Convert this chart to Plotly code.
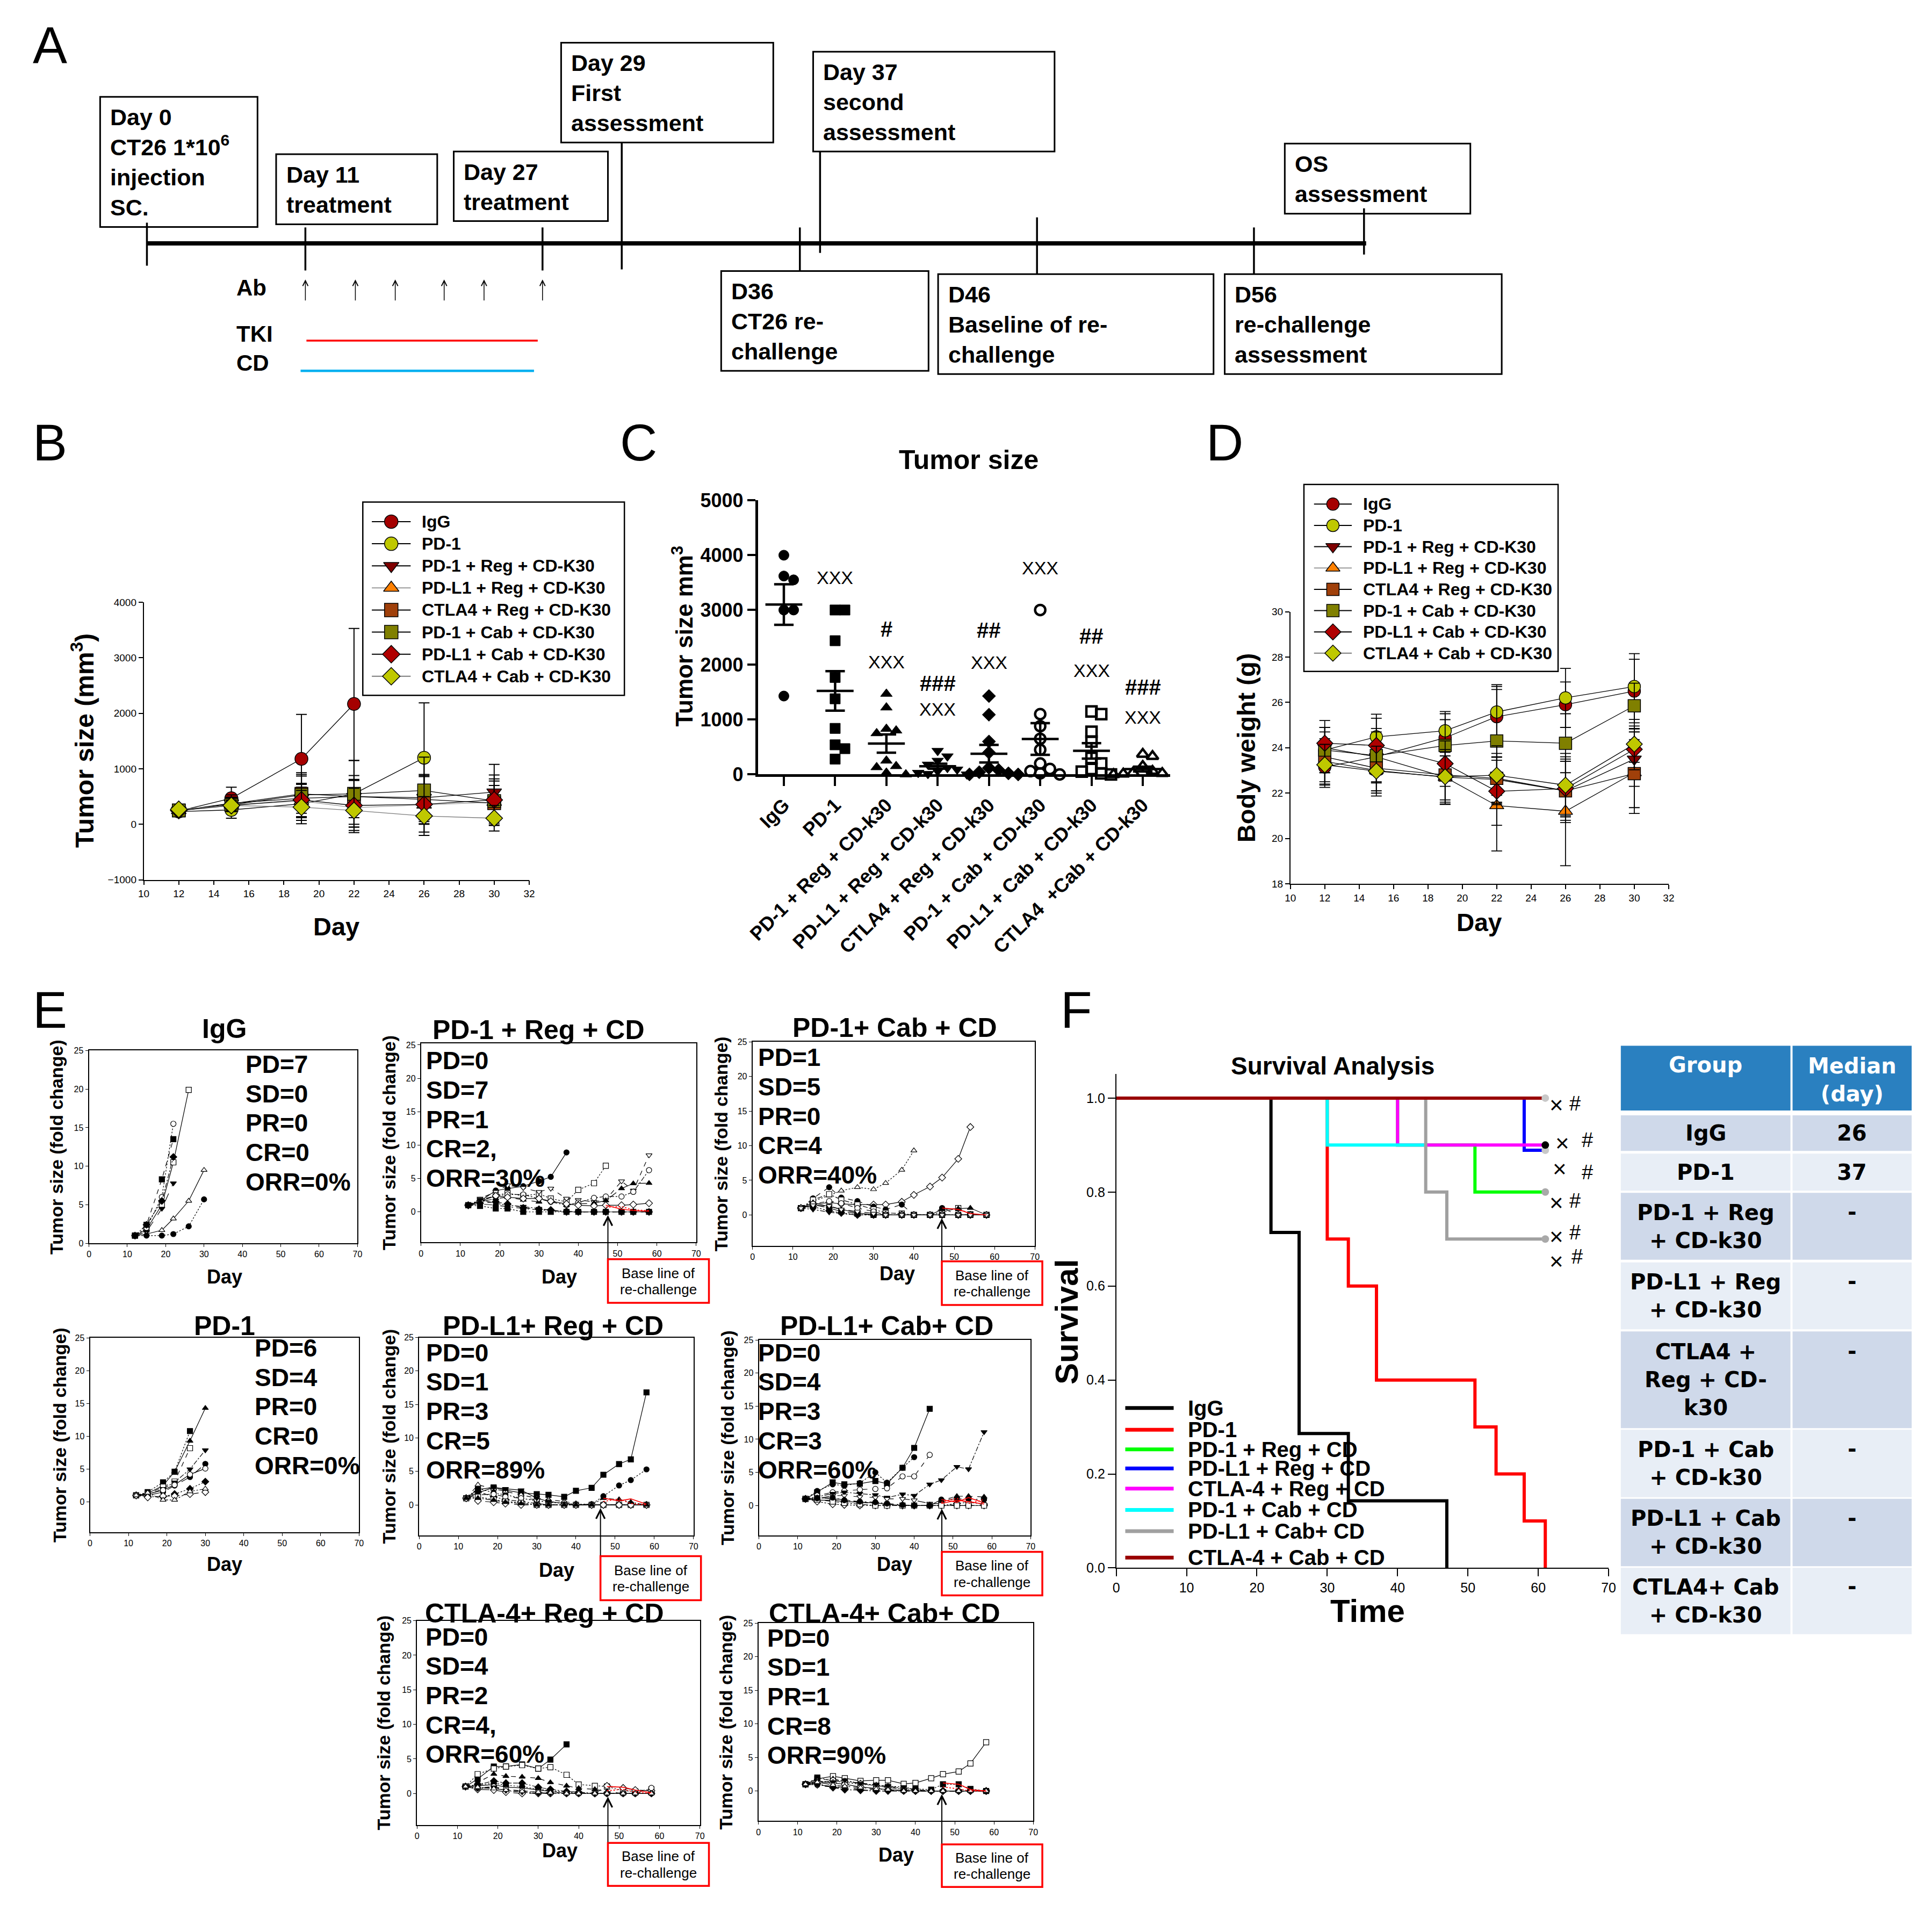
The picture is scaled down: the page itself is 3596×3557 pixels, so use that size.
import numpy as np
import plotly.graph_objects as go

W, H = 3596, 3557
OFF = 8                      # the page body margin; the figure is drawn inside it
WF, HF = W - 2 * OFF, H - 2 * OFF
ARIAL = "Liberation Sans, Arial, Helvetica, sans-serif"
WIDE = "DejaVu Sans, Verdana, sans-serif"

# ======================= DATA =======================
# ---- Panel B / D (group means over days) ----
GROUPS_BD = ["IgG", "PD-1", "PD-1 + Reg + CD-K30", "PD-L1 + Reg + CD-K30",
             "CTLA4 + Reg + CD-K30", "PD-1 + Cab + CD-K30", "PD-L1 + Cab + CD-K30",
             "CTLA4 + Cab + CD-K30"]
BD_SYMBOLS = ["circle", "circle", "triangle-down", "triangle-up", "square", "square", "diamond", "diamond"]
BD_COLORS = ["#A50000", "#BFC800", "#800000", "#FF8000", "#A0400A", "#808000", "#B00000", "#BFC800"]
BD_LINES = ["black", "black", "black", "#9a9a9a", "black", "black", "black", "#7a7a7a"]

B_DAYS = [12, 15, 19, 22, 26, 30]
B_IGG = [240, 470, 1180, 2170]
B_PD1 = [230, 260, 370, 550, 1200]
B_PD1_REG = [250, 380, 470, 500, 480, 580]
B_PDL1_REG = [250, 350, 420, 300, 350, 400]
B_CTLA4_REG = [250, 370, 550, 500, 450, 380]
B_PD1_CAB = [250, 350, 530, 550, 610, 420]
B_PDL1_CAB = [250, 340, 440, 340, 360, 440]
B_CTLA4_CAB = [270, 340, 310, 250, 150, 110]
B_ERR_IGG = [30, 200, 800, 1360]
B_ERR_PD1 = [30, 150, 300, 600, 990]
B_ERR_PD1_REG = [30, 150, 400, 380, 400, 500]
B_ERR_PDL1_REG = [30, 100, 300, 300, 300, 300]
B_ERR_CTLA4_REG = [30, 120, 350, 300, 450, 400]
B_ERR_PD1_CAB = [30, 120, 400, 600, 600, 400]
B_ERR_PDL1_CAB = [30, 100, 300, 450, 500, 450]
B_ERR_CTLA4_CAB = [30, 80, 300, 400, 350, 230]

D_DAYS = [12, 15, 19, 22, 26, 30]
D_IGG = [23.15, 23.6, 24.44, 25.37, 25.9, 26.5]
D_PD1 = [23.9, 24.48, 24.75, 25.58, 26.2, 26.7]
D_PD1_REG = [24.0, 23.6, 22.7, 22.6, 22.1, 23.5]
D_PDL1_REG = [23.4, 23.0, 22.7, 21.45, 21.2, 22.9]
D_CTLA4_REG = [23.6, 23.1, 22.8, 22.65, 22.1, 22.86]
D_PD1_CAB = [23.9, 23.65, 24.1, 24.3, 24.2, 25.85]
D_PDL1_CAB = [24.2, 24.1, 23.3, 22.08, 22.2, 23.93]
D_CTLA4_CAB = [23.25, 22.97, 22.72, 22.79, 22.35, 24.16]
D_ERR_IGG = [0.9, 0.8, 0.8, 1.2, 1.0, 1.4]
D_ERR_PD1 = [1.0, 1.0, 0.85, 1.2, 1.3, 1.45]
D_ERR_PD1_REG = [0.9, 1.1, 1.1, 1.0, 1.3, 1.2]
D_ERR_PDL1_REG = [1.0, 1.0, 1.2, 2.0, 2.4, 1.8]
D_ERR_CTLA4_REG = [1.1, 1.0, 1.1, 1.1, 1.4, 1.5]
D_ERR_PD1_CAB = [1.0, 1.2, 1.4, 2.4, 1.3, 1.0]
D_ERR_PDL1_CAB = [1.0, 1.2, 1.0, 1.5, 1.2, 0.9]
D_ERR_CTLA4_CAB = [0.9, 1.1, 1.2, 1.3, 1.4, 0.8]

# ---- Panel C (individual tumor sizes) ----
C_GROUPS = ["IgG", "PD-1", "PD-1 + Reg + CD-k30", "PD-L1 + Reg + CD-k30",
            "CTLA4 + Reg + CD-k30", "PD-1 + Cab + CD-k30", "PD-L1 + Cab + CD-k30",
            "CTLA4  +Cab + CD-k30"]
C_IGG = [4000, 3620, 3550, 3000, 3000, 1430]
C_PD1 = [3000, 3000, 2440, 1770, 1380, 840, 540, 470, 280]
C_PD1_REG = [1470, 1220, 830, 800, 750, 250, 150, 130, 30, 0]
C_PDL1_REG = [430, 330, 250, 180, 120, 90, 60, 30, 10, 0]
C_CTLA4_REG = [1430, 1090, 600, 400, 120, 80, 40, 20, 0, 0]
C_PD1_CAB = [3000, 1100, 880, 650, 450, 200, 100, 60, 20, 0]
C_PDL1_CAB = [1150, 1100, 780, 600, 300, 200, 100, 50, 20, 0]
C_CTLA4_CAB = [370, 330, 150, 60, 30, 20, 10, 0, 0, 0]
C_SYMBOLS = ["circle", "square", "triangle-up", "triangle-down", "diamond",
             "circle-open", "square-open", "triangle-up-open"]
C_XXX_Y = [None, 3590, 2050, 1190, 2040, 3770, 1900, 1040]
C_HASH = [None, None, "#", "###", "##", None, "##", "###"]
C_HASH_Y = [None, None, 2650, 1660, 2630, None, 2520, 1590]

# ---- Panel E (individual fold-change curves) ----
E_DAYS_SHORT = [12, 15, 19, 22, 26, 30]
E_DAYS_LONG = [12, 15, 19, 22, 26, 30, 33, 37, 40, 44, 47, 51, 54, 58]
E_RC_DAYS = [47, 51, 54, 58]
N = None

E_IGG = [
    [1, 1.8, 5.0, 10.5, 19.9, N],
    [1, 2.0, 6.0, 15.5, N, N],
    [1, 2.4, 8.3, 13.5, N, N],
    [1, 2.4, 5.5, 11.2, N, N],
    [1, 1.5, 4.5, 7.8, N, N],
    [1, 1.2, 1.7, 3.2, 5.5, 9.5],
    [1, 1.0, 1.0, 1.2, 2.2, 5.7],
]
E_IGG_SYM = ["square-open", "circle-open", "square", "diamond", "triangle-down", "triangle-up-open", "circle"]

E_PD1 = [
    [1, 1.3, 2.5, 4.6, 9.3, 14.3],
    [1, 1.5, 3.0, 4.6, 10.8, N],
    [1, 1.2, 2.3, 3.1, 8.2, N],
    [1, 1.1, 2.0, 3.0, 5.0, 7.9],
    [1, 1.0, 1.5, 2.5, 3.8, 5.8],
    [1, 1.2, 1.8, 2.6, 4.2, 5.1],
    [1, 0.8, 0.8, 1.2, 2.0, 3.1],
    [1, 0.7, 0.9, 0.9, 1.2, 1.5],
    [1, 1.4, 0.3, 0.3, 1.6, 2.0],
]
E_PD1_SYM = ["triangle-up", "square", "square-open", "triangle-down", "circle", "circle-open",
             "diamond", "diamond-open", "triangle-up-open"]

E_PD1REG = [
    [1, 1.6, 3.2, 3.5, 3.85, 4.6, 5.25, 8.9, N, N, N, N, N, N],
    [1, 1.5, 2.5, 2.8, 2.4, 2.7, 2.0, 1.5, 3.3, 4.3, 6.9, N, N, N],
    [1, 2.0, 3.0, 4.0, 3.6, 3.0, 3.5, 2.0, 1.8, 1.5, 1.8, 4.6, 3.2, 8.5],
    [1, 1.8, 2.4, 2.6, 2.6, 2.0, 1.5, 1.0, 1.4, 2.1, 2.3, 2.3, 3.0, 6.25],
    [1, 1.5, 2.0, 2.2, 1.8, 1.5, 1.7, 1.0, 1.2, 1.3, 1.7, 3.5, 4.25, 4.3],
    [1, 1.6, 2.4, 2.2, 2.0, 2.0, 1.6, 1.2, 1.0, 0.9, 1.0, 1.0, 1.1, 1.3],
    [1, 0.9, 0.5, 0.5, 0, 0, 0, 0, 0, 0, 0, 0, 0, 0],
    [1, 1.3, 1.5, 1.2, 0.6, 0.4, 0.3, 0, 0, 0, 0, 0, 0, 0],
    [1, 1.8, 1.3, 1.0, 0.8, 0.5, 0.2, 0, 0, 0, 0, 0, 0, 0],
    [1, 1.2, 1.0, 0.8, 0.5, 0.3, 0.2, 0.1, 0, 0, 0, 0, 0, 0],
]
E_PD1REG_SYM = ["circle", "square-open", "triangle-down-open", "circle-open", "triangle-up",
                "diamond-open", "square", "diamond", "triangle-down", "circle"]
E_PD1REG_RC = [[1.0, 0.4, 0.2, 0.1], [0.7, 0.8, 0.3, 0.2]]

E_PD1CAB = [
    [1, 1.5, 1.8, 1.6, 1.5, 1.5, 1.5, 1.9, 2.9, 4.1, 5.4, 8.1, 12.7, N],
    [1, 2.0, 2.8, 3.5, 4.0, 3.7, 4.6, 6.5, 9.3, N, N, N, N, N],
    [1, 2.4, 4.0, 2.5, 2.0, 1.2, 0.8, 1.5, 0, 0, 1.0, 0, 0, 0],
    [1, 2.2, 3.0, 2.2, 1.5, 0.8, 0.3, 0.2, 0, 0, 0.4, 1.0, 0.1, 0],
    [1, 1.5, 1.0, 0.5, 0.2, 0, 0, 0, 0, 0, 0, 0, 0, 0],
    [1, 1.8, 1.2, 0.8, 0.3, 0, 0, 0, 0, 0, 0.8, 0.9, 1.0, 0],
    [1, 1.2, 0.6, 0.3, 0, 0, 0, 0, 0, 0, 0, 0, 0, 0],
    [1, 1.6, 2.0, 1.7, 1.0, 0.5, 0, 0, 0, 0, 0, 0, 0, 0],
    [1, 0.8, 0.4, 0.2, 0, 0, 0, 0, 0, 0, 0, 0, 0, 0],
    [1, 1.4, 1.3, 0.8, 0.5, 0.2, 0, 0, 0, 0, 0, 0, 0, 0],
]
E_PD1CAB_SYM = ["diamond-open", "triangle-up-open", "circle", "square-open", "square",
                "triangle-up", "diamond", "circle-open", "triangle-down", "triangle-down-open"]
E_PD1CAB_RC = [[1.0, 0.8, 0.2, 0.0]]

E_PDL1REG = [
    [1, 2.3, 2.6, 2.2, 1.8, 1.6, 1.5, 1.2, 2.1, 2.55, 4.5, 6.1, 6.8, 16.8],
    [1, 2.5, 1.8, 1.5, 1.0, 0.6, 0.4, 0.2, 0.1, 0.1, 1.3, 2.9, 3.7, 5.3],
    [1, 3.0, 2.4, 2.0, 1.5, 1.0, 0.8, 0.5, 0.2, 0, 0, 0, 0, 0],
    [1, 2.0, 1.2, 0.8, 0.5, 0.2, 0, 0, 0, 0, 0, 0, 0, 0],
    [1, 1.5, 1.6, 1.2, 1.0, 0.8, 0.5, 0.3, 0, 0, 0, 0, 0, 0],
    [1, 1.8, 2.6, 2.4, 2.2, 1.0, 0.5, 0.2, 0, 0, 0, 0, 0, 0],
    [1, 1.2, 0.8, 0.5, 0.3, 0, 0, 0, 0, 0, 0, 0, 0, 0],
    [1, 0.6, 0.4, 0.2, 0, 0, 0, 0, 0, 0, 0, 0, 0, 0],
    [1, 1.0, 0.7, 0.4, 0.2, 0, 0, 0, 0, 0, 1.0, 0.8, 0.4, 0],
]
E_PDL1REG_SYM = ["square", "circle", "triangle-up-open", "diamond", "circle-open",
                 "triangle-down", "square-open", "diamond-open", "triangle-up"]
E_PDL1REG_RC = [[1.0, 0.6, 0.9, 0.1], [0.5, 0.9, 0.2, 0.0]]

E_PDL1CAB = [
    [1, 2.0, 3.5, 3.2, 3.3, 3.7, 3.3, 5.7, 8.7, 14.6, N, N, N, N],
    [1, 2.2, 3.2, 3.0, 3.4, 5.0, 3.45, 5.7, 7.3, N, N, N, N, N],
    [1, 1.5, 2.0, 2.2, 2.4, 2.5, 2.6, 4.4, 4.4, 7.65, N, N, N, N],
    [1, 1.3, 1.8, 2.0, 1.8, 1.6, 1.2, 1.7, 1.5, 3.2, 3.85, 5.85, 5.5, 11.1],
    [1, 1.0, 1.5, 1.5, 1.3, 1.2, 1.0, 1.0, 0.8, 0.3, 0.3, 0, 0, 0],
    [1, 0.8, 0.8, 0.6, 0.5, 0.4, 0.2, 0, 0, 0, 0, 0, 0, 0],
    [1, 0.6, 0.2, 0.1, 0, 0, 0, 0, 0, 0, 0, 0.3, 0.5, 0.2],
    [1, 1.2, 1.0, 0.9, 0.5, 0.3, 0, 0, 0, 0, 0.8, 1.4, 1.4, 1.3],
    [1, 0.9, 0.6, 0.4, 0.2, 0, 0, 0, 0, 0, 0, 0, 0, 0],
    [1, 1.1, 1.2, 0.8, 0.6, 0.5, 0.3, 0.1, 0, 0, 0.9, 1.0, 1.0, 0.9],
]
E_PDL1CAB_SYM = ["square", "circle", "circle-open", "triangle-down", "triangle-down-open",
                 "diamond", "diamond-open", "triangle-up", "square-open", "circle"]
E_PDL1CAB_RC = [[0.9, 0.5, 1.2, 0.4], [0.5, 1.1, 0.3, 0.9], [0.3, 0.8, 0.6, 0.2]]

E_CTLA4REG = [
    [1, 2.1, 3.9, 3.9, 4.2, 3.6, 4.9, 7.1, N, N, N, N, N, N],
    [1, 2.8, 3.6, 3.9, 4.1, 3.6, 3.8, 2.7, 1.3, 1.1, 1.0, 0.4, 0.3, 0.6],
    [1, 1.6, 2.8, 2.5, 2.4, 2.2, 1.6, 1.1, 0.75, 0.6, 0.3, 0, 0, 0],
    [1, 1.3, 1.8, 1.5, 1.5, 0.9, 0.6, 0.3, 0.2, 0, 0, 0, 0, 0],
    [1, 0.6, 0.5, 0.2, 0, 0, 0, 0, 0, 0, 1.1, 0.8, 0.5, 0.4],
    [1, 1.1, 1.3, 0.9, 0.8, 0.5, 0.3, 0, 0, 0, 0, 0, 0, 0],
    [1, 1.2, 1.5, 1.2, 1.0, 0.6, 0.4, 0.2, 0, 0, 0, 0, 0, 0],
    [1, 0.8, 1.0, 0.6, 0.4, 0.2, 0, 0, 0, 0, 0, 0, 0, 0.8],
    [1, 0.7, 0.9, 0.4, 0.2, 0, 0, 0, 0, 0, 0, 0, 0, 0],
    [1, 0.9, 0.7, 0.5, 0.3, 0.2, 0.1, 0, 0, 0, 0, 0, 0, 0],
]
E_CTLA4REG_SYM = ["square", "square-open", "triangle-up", "diamond", "diamond-open",
                  "triangle-down-open", "circle", "circle-open", "triangle-down", "triangle-up-open"]
E_CTLA4REG_RC = [[1.0, 0.9, 0.5, 0.1], [0.4, 0.6, 0.2, 0.0]]

E_CTLA4CAB = [
    [1, 1.8, 2.2, 1.9, 1.5, 1.6, 1.6, 1.06, 1.2, 1.9, 2.5, 2.9, 4.1, 7.26],
    [1, 2.0, 1.5, 1.3, 1.0, 0.8, 0.6, 0.4, 0.3, 0.2, 1.0, 1.0, 0.3, 0],
    [1, 1.6, 1.8, 1.4, 1.2, 0.9, 0.7, 0.4, 0.2, 0, 0, 0, 0, 0],
    [1, 1.2, 1.6, 1.5, 1.1, 0.8, 0.5, 0.3, 0.1, 0, 0, 0, 0, 0],
    [1, 0.9, 0.7, 0.5, 0.3, 0.2, 0.1, 0, 0, 0, 0, 0, 0, 0],
    [1, 1.4, 1.2, 1.0, 0.6, 0.4, 0.2, 0.1, 0, 0, 0, 0, 0, 0],
    [1, 1.5, 1.3, 1.6, 1.1, 0.9, 0.7, 0.6, 0.2, 0, 0, 0, 0, 0],
    [1, 0.8, 0.6, 0.4, 0.2, 0, 0, 0, 0, 0, 0, 0, 0, 0],
    [1, 1.1, 0.5, 0.2, 0.1, 0, 0, 0, 0, 0, 0, 0, 0, 0],
    [1, 1.3, 0.9, 0.7, 0.5, 0.3, 0.2, 0, 0, 0, 0, 0, 0, 0],
]
E_CTLA4CAB_SYM = ["square-open", "square", "triangle-up", "circle-open", "circle",
                  "diamond-open", "triangle-down", "triangle-down-open", "diamond", "triangle-up-open"]
E_CTLA4CAB_RC = [[1.2, 1.0, 0.2, 0.0], [0.6, 0.3, 0.0, 0.0]]

E_TITLES = ["IgG", "PD-1 + Reg + CD", "PD-1+ Cab + CD", "PD-1", "PD-L1+ Reg + CD",
            "PD-L1+ Cab+ CD", "CTLA-4+ Reg + CD", "CTLA-4+ Cab+ CD"]
E_STATS = [
    ["PD=7", "SD=0", "PR=0", "CR=0", "ORR=0%"],
    ["PD=0", "SD=7", "PR=1", "CR=2,", "ORR=30%"],
    ["PD=1", "SD=5", "PR=0", "CR=4", "ORR=40%"],
    ["PD=6", "SD=4", "PR=0", "CR=0", "ORR=0%"],
    ["PD=0", "SD=1", "PR=3", "CR=5", "ORR=89%"],
    ["PD=0", "SD=4", "PR=3", "CR=3", "ORR=60%"],
    ["PD=0", "SD=4", "PR=2", "CR=4,", "ORR=60%"],
    ["PD=0", "SD=1", "PR=1", "CR=8", "ORR=90%"],
]

# ---- Panel F (survival) ----
F_NAMES = ["IgG", "PD-1", "PD-1 + Reg + CD", "PD-L1 + Reg + CD", "CTLA-4 + Reg + CD",
           "PD-1 + Cab + CD", "PD-L1 + Cab+ CD", "CTLA-4 + Cab + CD"]
F_COLORS = ["black", "#FF0000", "#00FF00", "#0000FF", "#FF00FF", "#00FFFF", "#A0A0A0", "#990000"]
F_TIMES = [[0, 22, 26, 33, 47], [0, 30, 33, 37, 51, 54, 58, 61], [0, 40, 51, 61], [0, 58, 61],
           [0, 40, 61], [0, 30, 44], [0, 44, 47, 61], [0, 61]]
F_SURV = [[1, 0.714, 0.286, 0.143, 0], [1, 0.7, 0.6, 0.4, 0.3, 0.2, 0.1, 0], [1, 0.9, 0.8, 0.8],
          [1, 0.889, 0.889], [1, 0.9, 0.9], [1, 0.9, 0.9], [1, 0.8, 0.7, 0.7], [1, 1]]
F_END_X = [61, 61, 61, 61, 61]
F_END_Y = [0.8, 0.889, 0.9, 0.7, 1.0]
F_END_C = ["#A9A9A9", "#C8C8C8", "black", "#A9A9A9", "#C8C8C8"]
F_MARK_X = [62.55, 63.45, 63.07, 62.55, 62.55, 62.55]
F_MARK_Y = [0.986, 0.904, 0.850, 0.777, 0.705, 0.653]
F_HASH_X = [65.2, 66.95, 66.95, 65.2, 65.2, 65.55]
F_HASH_Y = [0.989, 0.911, 0.842, 0.781, 0.714, 0.662]

TBL_GROUPS = ["IgG", "PD-1", "PD-1 + Reg<br>+ CD-k30", "PD-L1 + Reg<br>+ CD-k30",
              "CTLA4 +<br>Reg + CD-<br>k30", "PD-1 + Cab<br>+ CD-k30", "PD-L1 + Cab<br>+ CD-k30",
              "CTLA4+ Cab<br>+ CD-k30"]
TBL_MEDIAN = ["26", "37", "-", "-", "-", "-", "-", "-"]

# ======================= LAYOUT GEOMETRY (pixels of the page) =======================
def dx(a, b):
    return [(a - OFF) / WF, (b - OFF) / WF]

def dy(top, bot):
    return [1 - (bot - OFF) / HF, 1 - (top - OFF) / HF]

traces, shapes, anns = [], [], []
layout = {}

def axn(n):
    return ("x" if n == 1 else f"x{n}"), ("y" if n == 1 else f"y{n}")

OV = 13
OX, OY = axn(OV)

def text(x, y, s, size, bold=True, xanchor="center", yanchor="middle", angle=0,
         color="black", family=ARIAL, xref=None, yref=None, align=None):
    anns.append(dict(x=x, y=y, xref=xref or OX, yref=yref or OY, text=s, showarrow=False,
                     xanchor=xanchor, yanchor=yanchor, textangle=angle,
                     align=align or ("left" if xanchor == "left" else "center"),
                     font=dict(size=size, color=color, family=family,
                               weight="bold" if bold else "normal")))

def seg(x0, y0, x1, y1, width=2, color="black"):
    shapes.append(dict(type="line", x0=x0, y0=y0, x1=x1, y1=y1, xref=OX, yref=OY,
                       line=dict(width=width, color=color)))

def rect(x0, y0, x1, y1, width=2, color="black", fill=None):
    d = dict(type="rect", x0=x0, y0=y0, x1=x1, y1=y1, xref=OX, yref=OY,
             line=dict(width=width, color=color))
    if fill:
        d["fillcolor"] = fill
    shapes.append(d)

def arrow(x, ytip, ytail, width=2, size=1.0, head=5):
    anns.append(dict(x=x, y=ytip, ax=x, ay=ytail, xref=OX, yref=OY, axref=OX, ayref=OY,
                     text="", showarrow=True, arrowhead=head, arrowsize=size,
                     arrowwidth=width, arrowcolor="black"))

def marker_style(sym, size, lw=1.2, color="black"):
    if sym.endswith("-open"):
        return dict(symbol=sym[:-5], size=size, color="white", line=dict(color=color, width=lw))
    return dict(symbol=sym, size=size, color=color, line=dict(color=color, width=lw))

def axis_common(**kw):
    d = dict(showgrid=False, zeroline=False, showline=True, linecolor="black",
             ticks="outside", tickcolor="black")
    d.update(kw)
    return d

# ---------------- Panel labels ----------------
for lab, (lx, ly) in zip("ABCDEF", [(71, 64), (71, 813), (1178, 813), (2280, 813), (71, 1881), (2001, 1881)]):
    text(lx, ly, lab, 96, bold=False)

# ---------------- Panel A (timeline diagram) ----------------
A_BOXES = [(165, 162, 461, 407), (496, 270, 799, 402), (830, 265, 1120, 396),
           (1032, 60, 1431, 248), (1506, 77, 1960, 265), (2393, 250, 2742, 382),
           (1333, 490, 1723, 678), (1741, 496, 2259, 684), (2280, 496, 2801, 684)]
A_TEXT = ["Day 0<br>CT26 1*10<sup>6</sup><br>injection<br>SC.", "Day 11<br>treatment",
          "Day 27<br>treatment", "Day 29<br>First<br>assessment", "Day 37<br>second<br>assessment",
          "OS<br>assessment", "D36<br>CT26 re-<br>challenge", "D46<br>Baseline of re-<br>challenge",
          "D56<br>re-challenge<br>assessment"]
A_TICKS = [(253, 399, 480), (551, 408, 489), (997, 408, 489), (1146, 248, 487), (1519, 265, 456),
           (2542, 372, 459), (1481, 408, 490), (1927, 389, 496), (2335, 408, 496)]
A_AB_X = [551, 645, 720, 812, 887, 997]

for (x0, y0, x1, y1), s in zip(A_BOXES, A_TEXT):
    rect(x0, y0, x1, y1, width=3)
    text(x0 + 17, y0 + 12, s, 43, xanchor="left", yanchor="top")
for (x, y0, y1) in A_TICKS:
    seg(x, y0, x, y1, width=3.5)
seg(253, 438, 2546, 438, width=8)
text(419, 521, "Ab", 42, xanchor="left")
text(419, 608, "TKI", 42, xanchor="left")
text(419, 663, "CD", 42, xanchor="left")
for x in A_AB_X:
    arrow(x, 506, 547, width=1.5, size=1.3, head=5)
seg(553, 621, 988, 621, width=3.5, color="#FF0000")
seg(542, 678, 981, 678, width=4.5, color="#00B0F0")

# ---------------- Panel B ----------------
B_SERIES = [B_IGG, B_PD1, B_PD1_REG, B_PDL1_REG, B_CTLA4_REG, B_PD1_CAB, B_PDL1_CAB, B_CTLA4_CAB]
B_ERRS = [B_ERR_IGG, B_ERR_PD1, B_ERR_PD1_REG, B_ERR_PDL1_REG, B_ERR_CTLA4_REG, B_ERR_PD1_CAB,
          B_ERR_PDL1_CAB, B_ERR_CTLA4_CAB]
bx, by = axn(1)
for i, vals in enumerate(B_SERIES):
    traces.append(go.Scatter(
        x=B_DAYS[:len(vals)], y=vals, mode="lines+markers", xaxis=bx, yaxis=by, cliponaxis=False,
        line=dict(color=BD_LINES[i], width=1.3),
        marker=dict(symbol=BD_SYMBOLS[i], size=24, color=BD_COLORS[i], line=dict(color="black", width=1.5)),
        error_y=dict(type="data", array=B_ERRS[i], color="black", thickness=2, width=10)))
layout["xaxis"] = axis_common(domain=dx(247, 972), range=[10, 32], dtick=2, tick0=10, ticklen=8,
                              tickwidth=1.5, linewidth=1.5, tickfont=dict(size=19), anchor="y")
layout["yaxis"] = axis_common(domain=dy(1114, 1636.5), range=[-1000, 4000], dtick=1000, ticklen=8,
                              tickwidth=1.5, linewidth=1.5, tickfont=dict(size=19), anchor="x")
text(132, 1374, "Tumor size (mm<sup>3</sup>)", 48, angle=-90)
text(609, 1724, "Day", 47)

def legend_box(box, row0, drow, lx0, lx1, tx, msize, fsize):
    rect(*box, width=2.5)
    for i, name in enumerate(GROUPS_BD):
        yy = row0 + i * drow
        traces.append(go.Scatter(x=[lx0, lx1], y=[yy, yy], mode="lines", xaxis=OX, yaxis=OY,
                                 line=dict(color=BD_LINES[i], width=2), hoverinfo="skip"))
        traces.append(go.Scatter(x=[(lx0 + lx1) / 2], y=[yy], mode="markers", xaxis=OX, yaxis=OY,
                                 marker=dict(symbol=BD_SYMBOLS[i], size=msize, color=BD_COLORS[i],
                                             line=dict(color="black", width=1.5)), hoverinfo="skip"))
        text(tx, yy, name, fsize, xanchor="left")

legend_box((659, 925, 1151, 1289), 962, 41.6, 676, 749, 768, 25, 32)

# ---------------- Panel C ----------------
def swarm(vals, step=0.19, thr=170):
    order = sorted(range(len(vals)), key=lambda k: -vals[k])
    xs = [0.0] * len(vals)
    placed = []
    cands = [0.0]
    for j in range(1, 9):
        cands += [j * step, -j * step]
    for k in order:
        v = vals[k]
        for c in cands:
            if all(abs(c - px) >= step * 0.95 or abs(v - pv) >= thr for px, pv in placed):
                xs[k] = c
                break
        placed.append((xs[k], v))
    return xs

C_SERIES = [C_IGG, C_PD1, C_PD1_REG, C_PDL1_REG, C_CTLA4_REG, C_PD1_CAB, C_PDL1_CAB, C_CTLA4_CAB]
cx, cy = axn(2)
for i, vals in enumerate(C_SERIES):
    offs = swarm(vals)
    sym = C_SYMBOLS[i]
    if sym.endswith("-open"):
        mk = dict(symbol=sym, size=19, color="black", line=dict(color="black", width=4.5))
    else:
        mk = dict(symbol=sym, size=19, color="black", line=dict(color="black", width=1))
    traces.append(go.Scatter(x=[i + o for o in offs], y=vals, mode="markers", marker=mk,
                             xaxis=cx, yaxis=cy, cliponaxis=False))
    m = float(np.mean(vals))
    s = float(np.std(vals, ddof=1) / np.sqrt(len(vals)))
    traces.append(go.Scatter(x=[i - 0.36, i + 0.36], y=[m, m], mode="lines", xaxis=cx, yaxis=cy,
                             line=dict(color="black", width=4.5), cliponaxis=False))
    traces.append(go.Scatter(x=[i, i, None, i - 0.19, i + 0.19, None, i - 0.19, i + 0.19],
                             y=[m - s, m + s, None, m + s, m + s, None, m - s, m - s],
                             mode="lines", xaxis=cx, yaxis=cy, line=dict(color="black", width=4.5),
                             cliponaxis=False))
    if C_XXX_Y[i] is not None:
        text(i, C_XXX_Y[i], "XXX", 34, bold=False, xref=cx, yref=cy)
    if C_HASH[i] is not None:
        text(i, C_HASH_Y[i], C_HASH[i], 40, xref=cx, yref=cy)
layout["xaxis2"] = axis_common(domain=dx(1402, 2177), range=[-0.507, 7.53], tickvals=list(range(8)),
                               ticktext=C_GROUPS, tickangle=-45, ticklen=17, tickwidth=4, linewidth=4.5,
                               tickfont=dict(size=36, weight="bold"), anchor="y2")
layout["yaxis2"] = axis_common(domain=dy(922, 1438), range=[0, 5000], dtick=1000, ticklen=15,
                               tickwidth=4, linewidth=4.5, tickfont=dict(size=36, weight="bold"),
                               anchor="x2")
text(1798, 846, "Tumor size", 50)
text(1260, 1178, "Tumor size mm<sup>3</sup>", 44, angle=-90)

# ---------------- Panel D ----------------
D_SERIES = [D_IGG, D_PD1, D_PD1_REG, D_PDL1_REG, D_CTLA4_REG, D_PD1_CAB, D_PDL1_CAB, D_CTLA4_CAB]
D_ERRS = [D_ERR_IGG, D_ERR_PD1, D_ERR_PD1_REG, D_ERR_PDL1_REG, D_ERR_CTLA4_REG, D_ERR_PD1_CAB,
          D_ERR_PDL1_CAB, D_ERR_CTLA4_CAB]
ddx, ddy = axn(3)
for i, vals in enumerate(D_SERIES):
    traces.append(go.Scatter(
        x=D_DAYS, y=vals, mode="lines+markers", xaxis=ddx, yaxis=ddy, cliponaxis=False,
        line=dict(color="black", width=1.3),
        marker=dict(symbol=BD_SYMBOLS[i], size=23, color=BD_COLORS[i], line=dict(color="black", width=1.5)),
        error_y=dict(type="data", array=D_ERRS[i], color="black", thickness=1.8, width=10)))
layout["xaxis3"] = axis_common(domain=dx(2403.5, 3115), range=[10, 32], dtick=2, tick0=10, ticklen=8,
                               tickwidth=1.5, linewidth=1.5, tickfont=dict(size=19), anchor="y3")
layout["yaxis3"] = axis_common(domain=dy(1131.6, 1644), range=[18, 30], dtick=2, ticklen=8,
                               tickwidth=1.5, linewidth=1.5, tickfont=dict(size=19), anchor="x3")
text(2320, 1388, "Body weight (g)", 47, angle=-90)
text(2759, 1717, "Day", 46)
legend_box((2429, 892, 2907, 1244), 929, 40.1, 2448, 2519, 2538, 23, 32)

# ---------------- Panel E ----------------
E_DATA = [E_IGG, E_PD1REG, E_PD1CAB, E_PD1, E_PDL1REG, E_PDL1CAB, E_CTLA4REG, E_CTLA4CAB]
E_SYMS = [E_IGG_SYM, E_PD1REG_SYM, E_PD1CAB_SYM, E_PD1_SYM, E_PDL1REG_SYM, E_PDL1CAB_SYM,
          E_CTLA4REG_SYM, E_CTLA4CAB_SYM]
E_RC = [None, E_PD1REG_RC, E_PD1CAB_RC, None, E_PDL1REG_RC, E_PDL1CAB_RC, E_CTLA4REG_RC, E_CTLA4CAB_RC]
E_BOX = [(144, 649, 1958, 2321), (768.6, 1286, 1944.2, 2319.2), (1392, 1923, 1941.5, 2325.4),
         (146, 652, 2499.2, 2864.6), (765, 1281, 2498.4, 2870.9), (1404, 1915, 2502.9, 2870.9),
         (761, 1293, 3031.6, 3416), (1403, 1920, 3036.3, 3408.7)]
E_YR = [[0, 25], [-4.56, 25.25], [-4.43, 25.0], [-4.58, 25], [-4.55, 25], [-4.5, 25],
        [-4.53, 25], [-4.46, 25]]
E_TITLE_XY = [(399, 1917), (990, 1919), (1660, 1915), (399, 2477), (1017, 2477), (1644, 2477),
              (1001, 3018), (1640, 3018)]
E_STATS_XY = [(436, 1984), (776, 1977), (1400, 1971), (454, 2518), (776, 2527), (1400, 2527),
              (775, 3062), (1418, 3064)]
E_DAY_XY = [(399, 2384), (1029, 2384), (1664, 2378), (399, 2925), (1023, 2936), (1659, 2925),
            (1030, 3465), (1662, 3473)]
E_YLAB_X = [83, 708, 1333, 89, 708, 1345, 698, 1342]
E_REDBOX = [None, (1120, 2351, 1310, 2433), (1748, 2355, 1937, 2437), None,
            (1106, 2910, 1295, 2993), (1748, 2902, 1937, 2984), (1120, 3450, 1310, 3531),
            (1748, 3453, 1937, 3533)]
DASHES = ["solid", "dot", "dash", "dashdot", "longdash", "solid", "dot", "dash", "dashdot", "longdashdot"]

for p in range(8):
    n = 4 + p
    ex, ey = axn(n)
    curves = E_DATA[p]
    days = E_DAYS_SHORT if len(curves[0]) == len(E_DAYS_SHORT) else E_DAYS_LONG
    for j, vals in enumerate(curves):
        traces.append(go.Scatter(x=days, y=vals, mode="lines+markers", xaxis=ex, yaxis=ey,
                                 cliponaxis=False,
                                 line=dict(color="black", width=1.2, dash=DASHES[j % len(DASHES)]),
                                 marker=marker_style(E_SYMS[p][j], 10)))
    if E_RC[p]:
        for j, vals in enumerate(E_RC[p]):
            traces.append(go.Scatter(x=E_RC_DAYS, y=vals, mode="lines", xaxis=ex, yaxis=ey,
                                     cliponaxis=False,
                                     line=dict(color="#FF0000", width=1.6, dash="solid" if j % 2 == 0 else "dot")))
    x0, x1, yt, yb = E_BOX[p]
    layout[f"xaxis{n}"] = axis_common(domain=dx(x0, x1), range=[0, 70], dtick=10, tick0=0, ticklen=5,
                                      tickwidth=1.2, linewidth=2, mirror=True,
                                      tickfont=dict(size=16), anchor=ey)
    layout[f"yaxis{n}"] = axis_common(domain=dy(yt, yb), range=E_YR[p], dtick=5, tick0=0, ticklen=5,
                                      tickwidth=1.2, linewidth=2, mirror=True,
                                      tickfont=dict(size=16), anchor=ex)
    text(*E_TITLE_XY[p], E_TITLES[p], 50)
    sx, sy = E_STATS_XY[p]
    for k, s in enumerate(E_STATS[p]):
        text(sx, sy + k * 55.3, s, 46, xanchor="left")
    text(*E_DAY_XY[p], "Day", 36)
    text(E_YLAB_X[p], (yt + yb) / 2, "Tumor size (fold change)", 34, angle=-90)
    if E_REDBOX[p]:
        rx0, ry0, rx1, ry1 = E_REDBOX[p]
        rect(rx0, ry0, rx1, ry1, width=3.5, color="#FF0000")
        text((rx0 + rx1) / 2, (ry0 + ry1) / 2 - 15, "Base line of", 26, bold=False)
        text((rx0 + rx1) / 2, (ry0 + ry1) / 2 + 16, "re-challenge", 26, bold=False)
        lo, hi = E_YR[p]
        tip = yt + (hi - 0) / (hi - lo) * (yb - yt) + 6
        arrow(rx0, tip, ry0, width=2, size=1.6, head=5)

# ---------------- Panel F ----------------
fx, fy = axn(12)
for i in range(len(F_NAMES)):
    traces.append(go.Scatter(x=F_TIMES[i], y=F_SURV[i], mode="lines", line_shape="hv",
                             line=dict(color=F_COLORS[i], width=6), xaxis=fx, yaxis=fy, cliponaxis=False))
traces.append(go.Scatter(x=F_END_X, y=F_END_Y, mode="markers", xaxis=fx, yaxis=fy, cliponaxis=False,
                         marker=dict(size=14, color=F_END_C, line=dict(width=0))))
for k in range(len(F_MARK_X)):
    text(F_MARK_X[k], F_MARK_Y[k], "×", 44, bold=False, xref=fx, yref=fy)
    text(F_HASH_X[k], F_HASH_Y[k], "#", 38, bold=False, xref=fx, yref=fy)
layout["xaxis12"] = axis_common(domain=dx(2076, 3002), range=[0, 70], dtick=10, tick0=0, ticklen=14,
                                tickwidth=1.5, linewidth=1.5, tickfont=dict(size=25), anchor="y12")
layout["yaxis12"] = axis_common(domain=dy(2002.4, 2932.3), range=[0, 1.051],
                                tickvals=[0, 0.2, 0.4, 0.6, 0.8, 1.0], tickformat=".1f", ticklen=14,
                                tickwidth=1.5, linewidth=1.5, tickfont=dict(size=25), anchor="x12")
text(2483, 1987, "Survival Analysis", 46)
text(1983, 2469, "Survival", 60, angle=-90)
text(2549, 3013, "Time", 60)
F_LEG_Y = [2631, 2672, 2709, 2745, 2783, 2823, 2863, 2913]
for i, name in enumerate(F_NAMES):
    traces.append(go.Scatter(x=[2093, 2184], y=[F_LEG_Y[i]] * 2, mode="lines", xaxis=OX, yaxis=OY,
                             line=dict(color=F_COLORS[i], width=7), hoverinfo="skip"))
    text(2209, F_LEG_Y[i], name, 40, xanchor="left")

# ---------------- Table ----------------
TBL_COL_X = [(3025, 3344), (3348, 3572)]
TBL_HEAD_Y = (1949, 2071)
TBL_ROW_Y = [(2080, 2147), (2152, 2222), (2226, 2352), (2357, 2483), (2487, 2669), (2672, 2799),
             (2802, 2929), (2932, 3057)]
for (c0, c1) in TBL_COL_X:
    rect(c0, TBL_HEAD_Y[0], c1, TBL_HEAD_Y[1], width=0, color="#2A80C0", fill="#2A80C0")
text(sum(TBL_COL_X[0]) / 2, 1985, "Group", 40, color="white", family=WIDE)
text(sum(TBL_COL_X[1]) / 2, 2013, "Median<br>(day)", 40, color="white", family=WIDE)
LH = 54
for r, (r0, r1) in enumerate(TBL_ROW_Y):
    fill = "#CFD9EA" if r % 2 == 0 else "#E8EEF6"
    for (c0, c1) in TBL_COL_X:
        rect(c0, r0, c1, r1, width=0, color=fill, fill=fill)
    nl = TBL_GROUPS[r].count("<br>") + 1
    mid = (r0 + r1) / 2
    text(sum(TBL_COL_X[0]) / 2, mid, TBL_GROUPS[r], 40, family=WIDE)
    text(sum(TBL_COL_X[1]) / 2, mid - (nl - 1) * LH / 2, TBL_MEDIAN[r], 40, family=WIDE)

# ---------------- overlay axis (page pixels) for diagram / legends ----------------
layout[f"xaxis{OV}"] = dict(domain=[0, 1], range=[OFF, OFF + WF], visible=False, anchor=OY, fixedrange=True)
layout[f"yaxis{OV}"] = dict(domain=[0, 1], range=[OFF + HF, OFF], visible=False, anchor=OX, fixedrange=True)

fig = go.Figure(data=traces)
fig.update_layout(**layout)
fig.update_layout(width=WF, height=HF, margin=dict(l=0, r=0, t=0, b=0), showlegend=False,
                  paper_bgcolor="white", plot_bgcolor="rgba(0,0,0,0)",
                  font=dict(family=ARIAL, color="black"), shapes=shapes, annotations=anns,
                  hovermode=False)
fig.write_html("out.html")
